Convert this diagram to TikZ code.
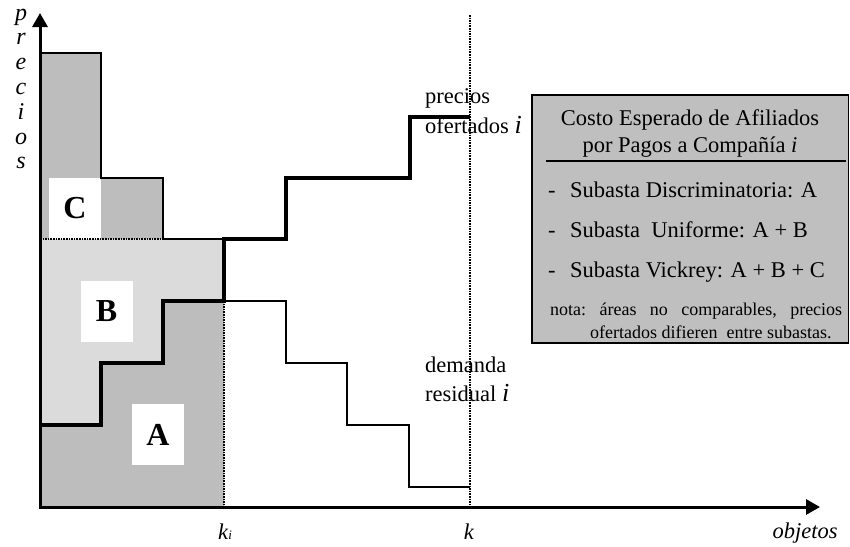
\documentclass[tikz,border=0pt]{standalone}
\usepackage{fontspec}
\setmainfont{Liberation Serif}
\usetikzlibrary{arrows.meta,positioning}

\definecolor{areadark}{gray}{0.74}
\definecolor{arealight}{gray}{0.86}
\definecolor{boxgray}{gray}{0.75}
\newcommand{\txt}{\fontsize{22.5}{27}\selectfont}
\newcommand{\smalltxt}{\fontsize{18}{22}\selectfont}
\newcommand{\areatxt}{\fontsize{32}{34}\selectfont\bfseries}
\newcommand{\idx}{{\fontsize{26}{26}\selectfont\itshape i}}

\begin{document}
\begin{tikzpicture}[x=1pt, y=-1pt, node distance=3pt,
    every node/.style={font=\txt, inner sep=0pt},
    axisline/.style={line width=3pt, {Triangle[length=14pt,width=15pt]}-{Triangle[length=14pt,width=15pt]}},
    bid/.style={line width=3.5pt},
    demand/.style={line width=1.2pt},
    guide/.style={line width=1.6pt, densely dotted},
    arealabel/.style={fill=white, minimum width=52pt, minimum height=61pt, font=\areatxt}]

  \useasboundingbox (0,0) rectangle (850,546);

  % areas A, B, C
  \fill[areadark] (40,53) -| (101,178) -| (163,239) -- (40,239) -- cycle;
  \fill[arealight] (40,239) -- (224,239) -- (224,301) -| (163,363) -| (101,425) -- (40,425) -- cycle;
  \fill[areadark] (40,507) |- (101,425) |- (163,363) |- (224,301) -- (224,507) -- cycle;

  \node[arealabel] (areaC) at (75,208) {C};
  \node[arealabel] (areaB) at (106.5,311.5) {B};
  \node[arealabel] (areaA) at (158,434.5) {A};

  % curves
  \draw[demand] (40,53) -| (101,178) -| (163,239) -- (224,239);
  \draw[guide] (40,239) -- (163,239);
  \draw[demand] (224,301) -| (286,363) -| (347,425) -| (409,487) -- (470,487);
  \draw[bid] (40,425) -| (101,363) -| (163,301) -| (224,239) -| (286,178) -| (410,117) -- (470,117);

  \coordinate (O) at (40,507);
  \coordinate (ytip) at (40,13);
  \coordinate (xtip) at (820,507);
  \coordinate (ki) at (224,507);
  \coordinate (k) at (470,507);
  \coordinate (ktop) at (470,15);

  \draw[guide] (224,301) -- (ki);
  \draw[guide] (ktop) -- (k);
  \draw[axisline] (ytip) |- (xtip);

  % axis labels
  \node[anchor=base] (kilbl) at (225,539) {\textit{k}{\fontsize{13}{13}\selectfont\textit{i}}};
  \node[anchor=base] (klbl) at (469,539) {\textit{k}};
  \node[anchor=base] (xlbl) at (805,538) {\textit{objetos}};
  \foreach \l [count=\n] in {p,r,e,c,i,o,s}
    \node[anchor=base, font=\fontsize{24}{24}\selectfont] (ylbl\n) at (21,{20+24.8*(\n-1)}) {\textit{\l}};

  % curve labels
  \node[anchor=base west] (prec) at (425,103) {precios};
  \node[anchor=base west] (ofert) at (425,133) {ofertados \idx};
  \node[anchor=base west] (dem) at (425,372) {demanda};
  \node[anchor=base west] (resid) at (425,401) {residual \idx};

  % legend box
  \draw[line width=1.5pt, fill=boxgray] (532,95) rectangle (848.5,343);
  \node[anchor=base] (ttl1) at (690,125) {Costo Esperado de Afiliados};
  \node[anchor=base] (ttl2) at (690,152) {por Pagos a Compañía \textit{i}};
  \draw[line width=1.4pt] (546,161) -- (846,161);
  \node[anchor=base west] (item1) at (548,197) {\makebox[22pt][l]{-}Subasta Discriminatoria: A};
  \node[anchor=base west] (item2) at (548,237) {\makebox[22pt][l]{-}Subasta\ \ Uniforme: A + B};
  \node[anchor=base west] (item3) at (548,277) {\makebox[22pt][l]{-}Subasta Vickrey: A + B + C};
  \node[anchor=base west, font=\smalltxt] (nota1) at (550,315) {\frenchspacing\makebox[292pt][s]{nota: áreas no comparables, precios}};
  \node[anchor=base west, font=\smalltxt] (nota2) at (590,338) {ofertados difieren\ \ entre subastas.};
\end{tikzpicture}
\end{document}
